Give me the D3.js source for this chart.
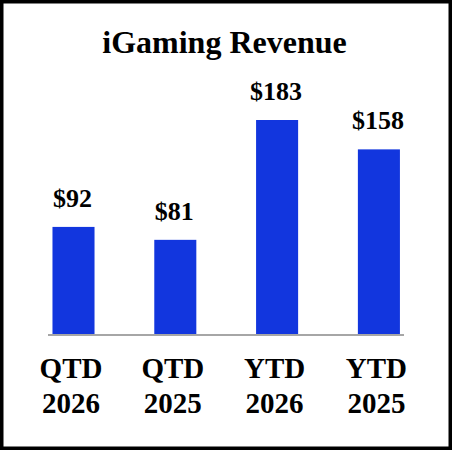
<!DOCTYPE html>
<html><head><meta charset="utf-8">
<script src="https://cdn.jsdelivr.net/npm/d3@7"></script>
<style>html,body{margin:0;padding:0;background:#fff;}svg{display:block;}</style>
</head><body>
<script>
const categories = [["QTD","2026"],["QTD","2025"],["YTD","2026"],["YTD","2025"]];
const values = [92, 81, 183, 158];
const valueLabels = ["$92","$81","$183","$158"];
const title = "iGaming Revenue";

const W = 452, H = 450;
const font = "'Liberation Serif','Times New Roman',serif";
const svg = d3.select("body").append("svg").attr("width", W).attr("height", H);

svg.append("rect").attr("x",1.75).attr("y",1.75).attr("width",W-3.5).attr("height",H-3.5)
  .attr("fill","#fff").attr("stroke","#000").attr("stroke-width",3.5);

svg.append("text").attr("x",224.5).attr("y",53).attr("text-anchor","middle")
  .attr("font-family",font).attr("font-weight","bold").attr("font-size",32)
  .attr("fill","#000").text(title);

const keys = categories.map(c => c.join(" "));
const x = d3.scaleBand().domain(keys).range([22.6, 429.8]).paddingInner(0.587).paddingOuter(0.2935);
const y = d3.scaleLinear().domain([0, 183]).range([335, 120]);

svg.selectAll("rect.bar").data(values).enter().append("rect").attr("class","bar")
  .attr("x",(d,i)=>x(keys[i])).attr("width",x.bandwidth())
  .attr("y",d=>y(d)).attr("height",d=>y(0)-y(d)).attr("fill","#1236de");

svg.append("line").attr("x1",48).attr("x2",404).attr("y1",y(0)).attr("y2",y(0))
  .attr("stroke","#a6a6a6").attr("stroke-width",2);

svg.selectAll("text.val").data(values).enter().append("text").attr("class","val")
  .attr("x",(d,i)=>x(keys[i])+x.bandwidth()/2 - 1).attr("y",d=>y(d)-20)
  .attr("text-anchor","middle").attr("font-family",font).attr("font-weight","bold")
  .attr("font-size",26).attr("fill","#000").text((d,i)=>valueLabels[i]);

const xAxis = d3.axisBottom(x).tickSize(0).tickFormat(()=> "");
const gx = svg.append("g").attr("transform",`translate(0,${y(0)})`).call(xAxis);
gx.select(".domain").remove();
gx.selectAll(".tick").each(function(k,i){
  const t = d3.select(this).append("text").attr("text-anchor","middle")
    .attr("font-family",font).attr("font-weight","bold").attr("font-size",29).attr("fill","#000");
  t.append("tspan").attr("x",-2.5).attr("y",43).text(categories[i][0]);
  t.append("tspan").attr("x",-2.5).attr("y",78).text(categories[i][1]);
});
</script>
</body></html>
